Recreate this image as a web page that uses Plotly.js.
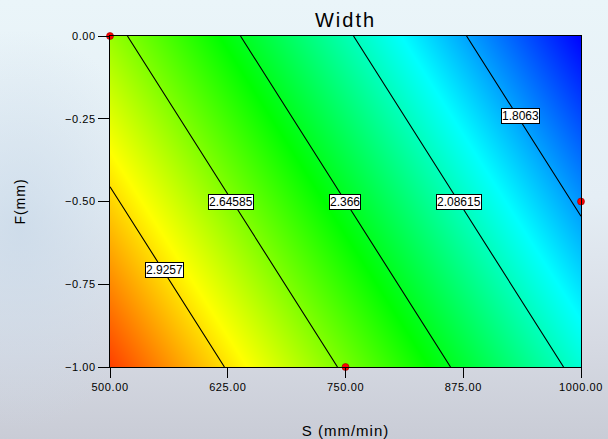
<!DOCTYPE html>
<html>
<head>
<meta charset="utf-8">
<script src="https://cdn.plot.ly/plotly-3.0.1.min.js"></script>
<style>
  html, body { margin: 0; padding: 0; }
  body {
    width: 608px; height: 439px; overflow: hidden;
    background:
      radial-gradient(ellipse 140px 200px at 20px 230px, rgba(200,216,232,0.75), rgba(200,216,232,0) 100%),
      linear-gradient(180deg, #eaf5f9 0%, #e5eef5 45%, #d6dae3 78%, #c9ccd6 100%);
  }
  #chart { width: 608px; height: 439px; }
  #chart svg .xtick text, #chart svg .ytick text { letter-spacing: 0.6px; }
  #chart svg text.gtitle { letter-spacing: 2px; }
  #chart svg text.xtitle, #chart svg text.ytitle { letter-spacing: 1px; }
</style>
</head>
<body>
<div id="chart"></div>
<script>
// Factor values (grid)
const S = [500, 750, 1000];          // S (mm/min)
const F = [-1, -0.5, 0];             // F (mm)
// Response "Width" at grid points, rows follow F, columns follow S
const widthRowFm1 = [3.209, 2.626, 2.043];
const widthRowFm05 = [2.949, 2.366, 1.783];
const widthRowF0 = [2.689, 2.106, 1.523];

// Contour levels and their label positions
const levels = [1.8063, 2.08615, 2.366, 2.64585, 2.9257];
const labelS = [936, 870, 749, 628, 558];
const labelF = [-0.241, -0.5, -0.5, -0.5, -0.707];

// Design points
const ptS = [500, 1000, 750];
const ptF = [0, -0.5, -1];

// Tick labels
const xTicks = [500, 625, 750, 875, 1000];
const yTicks = [-1, -0.75, -0.5, -0.25, 0];

const zGrid = [widthRowFm1, widthRowFm05, widthRowF0];
const step = levels[1] - levels[0];

const contour = {
  type: 'contour',
  x: S, y: F, z: zGrid,
  zauto: false, zmin: 1.52, zmax: 3.32,
  colorscale: [
    [0, 'rgb(0,0,255)'],
    [0.25, 'rgb(0,255,255)'],
    [0.5, 'rgb(0,255,0)'],
    [0.75, 'rgb(255,255,0)'],
    [1, 'rgb(255,0,0)']
  ],
  autocontour: false,
  contours: {
    start: levels[0],
    end: levels[levels.length - 1] + step / 100,
    size: step,
    coloring: 'heatmap',
    showlabels: false
  },
  line: { color: 'black', width: 1.1, smoothing: 0 },
  showscale: false,
  hoverinfo: 'skip'
};

const points = {
  type: 'scatter', mode: 'markers',
  x: ptS, y: ptF,
  marker: { color: 'rgb(255,0,0)', size: 7, line: { color: 'rgb(150,0,0)', width: 0.6 } },
  cliponaxis: false,
  hoverinfo: 'skip'
};

const annotations = levels.map((lv, i) => ({
  x: labelS[i], y: labelF[i], xref: 'x', yref: 'y',
  text: String(lv), showarrow: false,
  bgcolor: 'white', bordercolor: 'black', borderwidth: 1, borderpad: 0,
  font: { family: 'Liberation Sans, Arial, sans-serif', size: 12, color: 'black' }
}));

const font = { family: 'Liberation Sans, Arial, sans-serif', color: 'black' };

const layout = {
  width: 608, height: 439,
  margin: { l: 110, r: 27, t: 36, b: 72 },
  paper_bgcolor: 'rgba(0,0,0,0)',
  plot_bgcolor: 'rgba(0,0,0,0)',
  font: font,
  showlegend: false,
  title: {
    text: 'Width',
    font: { family: font.family, size: 20, color: 'black' },
    x: 0.5, xref: 'paper', xanchor: 'center',
    y: 1 - 20 / 439, yref: 'container', yanchor: 'middle'
  },
  xaxis: {
    range: [500, 1000],
    tickvals: xTicks, tickformat: '.2f',
    ticks: 'outside', ticklen: 10, tickwidth: 1, tickcolor: 'black',
    showline: true, mirror: true, linecolor: 'black', linewidth: 1,
    showgrid: false, zeroline: false,
    tickfont: { family: font.family, size: 11, color: 'black' },
    title: { text: 'S (mm/min)', font: { family: font.family, size: 15, color: 'black' }, standoff: 33 }
  },
  yaxis: {
    range: [-1, 0],
    tickvals: yTicks, tickformat: '.2f',
    ticks: 'outside', ticklen: 11, tickwidth: 1, tickcolor: 'black',
    showline: true, mirror: true, linecolor: 'black', linewidth: 1,
    showgrid: false, zeroline: false,
    tickfont: { family: font.family, size: 11, color: 'black' },
    title: { text: 'F(mm)', font: { family: font.family, size: 14, color: 'black' }, standoff: 39 }
  },
  annotations: annotations
};

Plotly.newPlot('chart', [contour, points], layout, { staticPlot: true, displayModeBar: false });
</script>
</body>
</html>
